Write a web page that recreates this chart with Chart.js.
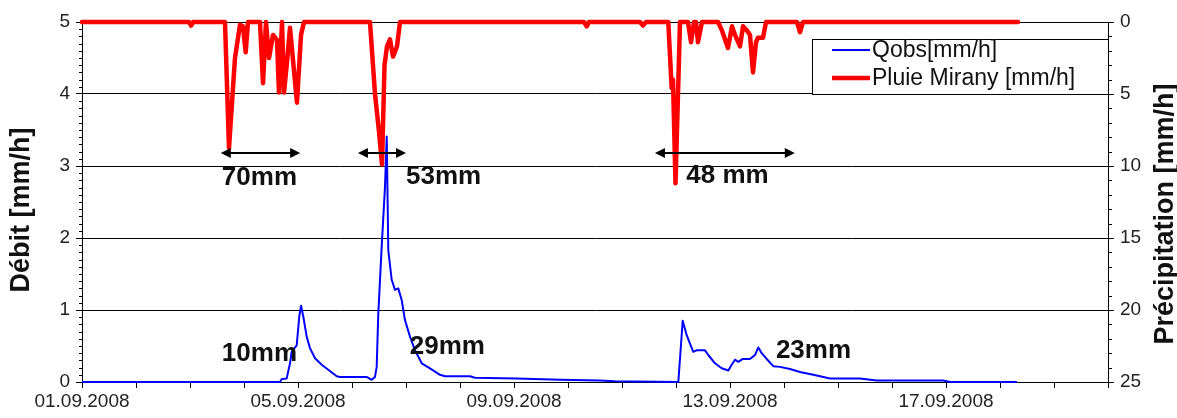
<!DOCTYPE html>
<html>
<head>
<meta charset="utf-8">
<title>Débit et précipitation - Mirany</title>
<script src="https://cdn.jsdelivr.net/npm/chart.js"></script>
<style>
  body { margin: 0; background: #fff; }
  canvas { display: block; }
</style>
</head>
<body>
<canvas id="hydroChart" width="1177" height="418"></canvas>
<script>
// time axis = days since 01.09.2008 00:00
var qobsDays = [0, 3.667, 3.698, 3.791, 3.852, 3.883, 3.976, 4.024, 4.056, 4.098, 4.161, 4.222, 4.315, 4.439, 4.561,
  4.717, 4.778, 5.272, 5.365, 5.426, 5.457, 5.487, 5.55, 5.611, 5.643, 5.672, 5.735, 5.796, 5.857, 5.92, 5.981,
  6.074, 6.167, 6.291, 6.444, 6.63, 6.722, 7.185, 7.278, 8.05, 8.852, 9.593, 9.87, 11.043, 11.124, 11.198, 11.272,
  11.32, 11.383, 11.537, 11.598, 11.722, 11.846, 11.969, 12.031, 12.093, 12.154, 12.235, 12.37, 12.463, 12.524,
  12.587, 12.68, 12.802, 12.926, 13.111, 13.296, 13.543, 13.852, 14.407, 14.717, 15.944, 16.074, 17.315];
var qobsValues = [0, 0, 0.04, 0.05, 0.26, 0.42, 0.51, 0.91, 1.06, 0.91, 0.63, 0.47, 0.33, 0.24, 0.17,
  0.08, 0.07, 0.07, 0.03, 0.07, 0.21, 0.95, 1.88, 2.71, 3.41, 1.83, 1.42, 1.28, 1.30, 1.14, 0.86,
  0.63, 0.44, 0.26, 0.19, 0.10, 0.08, 0.08, 0.06, 0.05, 0.03, 0.02, 0.01, 0, 0.85, 0.65, 0.51,
  0.42, 0.44, 0.44, 0.375, 0.26, 0.19, 0.16, 0.24, 0.31, 0.28, 0.32, 0.32, 0.375, 0.48,
  0.40, 0.32, 0.22, 0.21, 0.18, 0.14, 0.10, 0.05, 0.05, 0.02, 0.02, 0, 0];

var rainDays = [0, 1.98, 2.02, 2.06, 2.648, 2.722, 2.833, 2.926, 2.98, 3.031, 3.074, 3.296, 3.352, 3.407, 3.463,
  3.537, 3.611, 3.648, 3.704, 3.741, 3.796, 3.852, 3.981, 4.056, 4.111, 5.333, 5.426, 5.5, 5.556, 5.602, 5.648,
  5.704, 5.759, 5.833, 5.889, 9.296, 9.346, 9.389, 10.333, 10.389, 10.444, 10.857, 10.92, 10.944, 10.991, 11.074,
  11.222, 11.278, 11.333, 11.37, 11.407, 11.481, 11.778, 11.852, 11.963, 12.037, 12.093, 12.185, 12.241, 12.315,
  12.37, 12.426, 12.481, 12.519, 12.611, 12.667, 13.241, 13.296, 13.352, 17.333];
var rainValues = [0, 0, 0.25, 0, 0, 8.75, 2.5, 0.2, 0.3, 2.1, 0, 0, 4.25, 0, 2.5,
  0.9, 1.25, 4.9, 0, 4.9, 2.8, 0.4, 5.6, 0.9, 0, 0, 5.0, 7.6, 9.9, 3.0, 1.7,
  1.2, 2.4, 1.7, 0, 0, 0.3, 0, 0, 0.25, 0, 0, 4.6, 4.0, 11.2, 0,
  0, 1.4, 0, 0, 1.4, 0, 0, 0.6, 1.8, 0.3, 0.9, 1.7, 0.3, 0.6,
  0.9, 3.5, 1.4, 1.1, 1.1, 0, 0, 0.7, 0, 0];

var xTickLabels = ['01.09.2008', '05.09.2008', '09.09.2008', '13.09.2008', '17.09.2008'];
var xLabelStep = 4;

// event totals written on the chart
var arrowFrom = [2.57, 5.11, 10.61];
var arrowTo = [4.04, 6.0, 13.2];
var arrowLevel = 3.18;
var rainTotals = ['70mm', '53mm', '48 mm'];
var rainTotalX = [2.59, 6.0, 11.19];
var rainTotalY = [2.83, 2.85, 2.87];
var flowTotals = ['10mm', '29mm', '23mm'];
var flowTotalX = [2.59, 6.07, 12.85];
var flowTotalY = [0.39, 0.49, 0.43];

var FONT = "'Liberation Sans', Arial, sans-serif";

const extras = {
  id: 'extras',
  afterDatasetsDraw(chart) {
    const ctx = chart.ctx;
    const xs = chart.scales.x, ys = chart.scales.y, ys2 = chart.scales.y2;
    const area = chart.chartArea;
    ctx.save();
    ctx.strokeStyle = '#000';
    ctx.lineWidth = 1;

    // minor ticks
    ctx.beginPath();
    for (let i = 1; i < 50; i++) {
      if (i % 10 === 0) continue;
      const py = Math.round(ys.getPixelForValue(i / 10)) + 0.5;
      ctx.moveTo(area.left - 3, py); ctx.lineTo(area.left, py);
    }
    for (let i = 1; i < 25; i++) {
      if (i % 5 === 0) continue;
      const py = Math.round(ys2.getPixelForValue(i)) + 0.5;
      ctx.moveTo(area.right, py); ctx.lineTo(area.right + 4, py);
    }
    ctx.stroke();

    // double arrows
    ctx.lineWidth = 2;
    ctx.fillStyle = '#000';
    const ay = ys.getPixelForValue(arrowLevel);
    for (let i = 0; i < arrowFrom.length; i++) {
      const x1 = xs.getPixelForValue(arrowFrom[i]);
      const x2 = xs.getPixelForValue(arrowTo[i]);
      ctx.beginPath();
      ctx.moveTo(x1 + 6, ay); ctx.lineTo(x2 - 6, ay);
      ctx.stroke();
      ctx.beginPath();
      ctx.moveTo(x1, ay); ctx.lineTo(x1 + 10, ay - 5); ctx.lineTo(x1 + 10, ay + 5); ctx.closePath();
      ctx.moveTo(x2, ay); ctx.lineTo(x2 - 10, ay - 5); ctx.lineTo(x2 - 10, ay + 5); ctx.closePath();
      ctx.fill();
    }

    // totals
    ctx.font = 'bold 26px ' + FONT;
    ctx.textAlign = 'left';
    ctx.textBaseline = 'middle';
    ctx.fillStyle = '#111';
    for (let i = 0; i < rainTotals.length; i++) {
      ctx.fillText(rainTotals[i], xs.getPixelForValue(rainTotalX[i]), ys.getPixelForValue(rainTotalY[i]));
    }
    for (let i = 0; i < flowTotals.length; i++) {
      ctx.fillText(flowTotals[i], xs.getPixelForValue(flowTotalX[i]), ys.getPixelForValue(flowTotalY[i]));
    }

    // legend box
    const lw = 296, lh = 55;
    const lx = area.right - lw, ly = area.top + 17;
    ctx.fillStyle = '#fff';
    ctx.fillRect(lx, ly, lw, lh);
    ctx.lineWidth = 1;
    ctx.strokeStyle = '#000';
    ctx.strokeRect(Math.round(lx) + 0.5, Math.round(ly) + 0.5, lw, lh);
    ctx.font = '23px ' + FONT;
    ctx.fillStyle = '#111';
    chart.data.datasets.forEach(function (ds, i) {
      const ey = ly + 11 + i * 28;
      ctx.strokeStyle = ds.borderColor;
      ctx.lineWidth = ds.borderWidth;
      ctx.beginPath();
      ctx.moveTo(lx + 20, ey); ctx.lineTo(lx + 58, ey);
      ctx.stroke();
      ctx.fillText(ds.label, lx + 60, ey + 1);
    });

    // axis titles
    ctx.font = 'bold 27px ' + FONT;
    ctx.textAlign = 'center';
    ctx.fillStyle = '#111';
    const cy = (area.top + area.bottom) / 2;
    ctx.save();
    ctx.translate(22, cy + 8);
    ctx.rotate(-Math.PI / 2);
    ctx.fillText('Débit [mm/h]', 0, 0);
    ctx.restore();
    ctx.save();
    ctx.translate(1166, cy + 12);
    ctx.rotate(-Math.PI / 2);
    ctx.fillText('Précipitation [mm/h]', 0, 0);
    ctx.restore();

    ctx.restore();
  }
};

const ctx = document.getElementById('hydroChart').getContext('2d');
new Chart(ctx, {
  type: 'line',
  data: {
    datasets: [{
      label: 'Qobs[mm/h]',
      data: qobsDays.map((d, i) => ({ x: d, y: qobsValues[i] })),
      yAxisID: 'y',
      borderColor: '#0000ff',
      borderWidth: 2,
      borderJoinStyle: 'round',
      pointRadius: 0,
      tension: 0,
      clip: 4
    }, {
      label: 'Pluie Mirany [mm/h]',
      data: rainDays.map((d, i) => ({ x: d, y: rainValues[i] })),
      yAxisID: 'y2',
      borderColor: '#ff0000',
      borderWidth: 4.5,
      borderJoinStyle: 'round',
      borderCapStyle: 'round',
      pointRadius: 0,
      tension: 0,
      clip: 6
    }]
  },
  options: {
    responsive: false,
    animation: false,
    events: [],
    layout: { padding: { top: 22, left: 0, right: 0, bottom: 0 } },
    plugins: { legend: { display: false }, tooltip: { enabled: false } },
    scales: {
      x: {
        type: 'linear',
        min: 0,
        max: 19,
        afterFit: s => { s.height = 36; },
        border: { color: '#000', width: 1 },
        grid: { drawOnChartArea: false, drawTicks: true, tickLength: 6, color: '#000' },
        ticks: {
          stepSize: 1,
          autoSkip: false,
          maxRotation: 0,
          minRotation: 0,
          padding: 2,
          color: '#222',
          font: { family: FONT, size: 19 },
          callback: v => (v % xLabelStep === 0 ? xTickLabels[v / xLabelStep] : '')
        }
      },
      y: {
        position: 'left',
        min: 0,
        max: 5,
        afterFit: s => { s.width = 82; },
        border: { color: '#000', width: 1 },
        grid: { color: '#000', tickLength: 6, lineWidth: 1 },
        ticks: { stepSize: 1, padding: 6, color: '#222', font: { family: FONT, size: 19 } }
      },
      y2: {
        position: 'right',
        min: 0,
        max: 25,
        reverse: true,
        afterFit: s => { s.width = 69; },
        border: { color: '#000', width: 1 },
        grid: { drawOnChartArea: false, color: '#000', tickLength: 6 },
        ticks: { stepSize: 5, padding: 6, color: '#222', font: { family: FONT, size: 19 } }
      }
    }
  },
  plugins: [extras]
});
</script>
</body>
</html>
